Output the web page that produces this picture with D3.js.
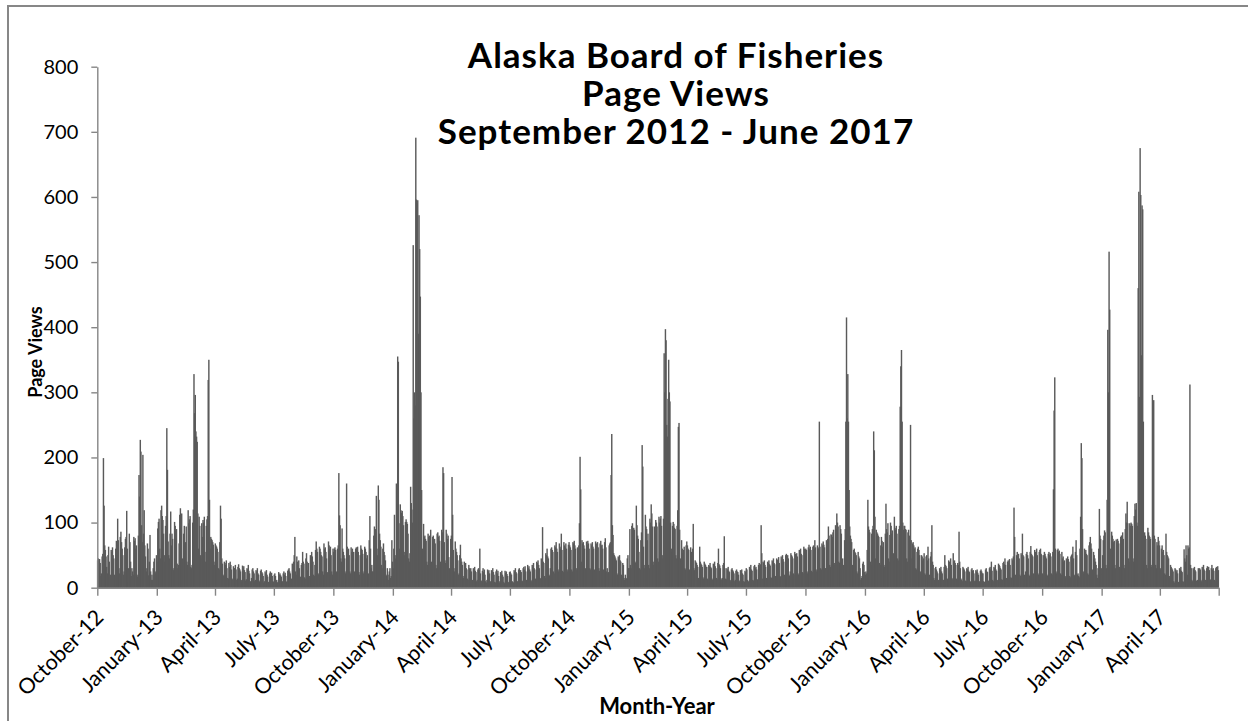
<!DOCTYPE html>
<html><head><meta charset="utf-8">
<script src="https://cdn.jsdelivr.net/npm/d3@7/dist/d3.min.js"></script>
<style>html,body{margin:0;padding:0;background:#fff;overflow:hidden}</style>
</head><body>
<svg id="chart" width="1248" height="721"></svg>
<script>
// ---------- data (daily page views, one inner array per month) ----------
const titleLines = ["Alaska Board of Fisheries", "Page Views", "September 2012 - June 2017"];
const yTicks = [0, 100, 200, 300, 400, 500, 600, 700, 800];
const tickMonths = ["2012-10","2013-01","2013-04","2013-07","2013-10","2014-01","2014-04","2014-07","2014-10","2015-01","2015-04","2015-07","2015-10","2016-01","2016-04","2016-07","2016-10","2017-01","2017-04","2017-07"];
const tickLabels = ["October-12","January-13","April-13","July-13","October-13","January-14","April-14","July-14","October-14","January-15","April-15","July-15","October-15","January-16","April-16","July-16","October-16","January-17","April-17",""];

const views2012 = [ // Oct - Dec 2012
 [42,45,40,44,38,18,22, 48,52,199,126,65,58,48, 32,22,50,63,40,17,20, 58,55,62,50,45,20,18, 60,72,65],
 [106,73,30,22, 78,86,70,60,50,20,25, 62,75,78,118,60,9,30, 83,70,40,18,30,25,20, 78,72,76,60,65],
 [20,17, 80,173,140,227,209,96,70, 204,83,119,65,48,30,25, 68,60,19,40,81,25,12, 20,12,30,40,45,22,25,50]
];
const views2013 = [
 [40,91,101,106,60,45, 119,126,110,104,83,50,40, 95,110,245,181,71,50,45, 83,117,65,83,75,27,30, 101,95,88,90],
 [37,30,35, 68,112,122,94,114,45,40, 83,95,53,70,94,40,35, 119,99,105,110,32,30,35, 100,120,328,268],
 [296,240,232, 224,114,60,109,95,50,45, 99,78,104,100,109,55,40, 95,105,110,319,350,135,60, 78,75,73,70,66,40,35],
 [68,65,63,60,55,30,28, 70,126,106,45,37,20,18, 40,38,35,42,30,15,14, 38,32,40,35,28,14,12, 33,30],
 [30,35,28,12,14, 32,36,30,28,25,12,10, 34,30,33,27,24,11,13, 30,28,35,26,22,10,9, 15,28,30,25,22],
 [10,12, 27,25,30,22,20,9,11, 26,28,24,22,18,8,10, 25,22,27,20,17,9,8, 22,25,20,23,18,10,9],
 [20,22,18,10,12,8,9, 24,20,22,19,17,8,10, 22,25,20,23,18,9,10, 26,28,30,25,22,12,14, 37,35,40],
 [50,78,25,20, 48,40,35,42,30,15,17, 35,38,55,40,37,16,14, 45,53,40,27,38,15,18, 50,45,55,48,40,20],
 [18, 35,58,71,60,55,22,20, 63,60,55,50,48,25,20, 68,60,62,55,45,24,22, 71,65,60,63,50,25,20, 60],
 [55,60,62,58,25,22, 60,65,176,111,96,45,40, 91,60,55,50,45,22,25, 160,63,58,60,50,25,22, 62,55,60,50],
 [55,25,22, 60,62,58,63,55,24,20, 50,65,60,58,52,22,25, 63,60,55,45,50,20,22, 73,110,60,30,35,25],
 [25, 80,94,85,90,141,60,50, 157,135,83,73,63,35,30, 60,68,55,50,42,20,18, 30,20,12,25,30,15,18, 73,40]
];
const views2014 = [
 [30,60,112,50,45, 160,130,355,347,99,60,128, 119,115,118,110,96,55,50, 101,105,101,98,83,45,40, 53,155,130,120,100],
 [526,260, 300,280,691,596,590,595,390, 572,520,447,300,150,60,55, 98,78,80,75,72,40,35, 83,78,80,70,89],
 [40,35, 78,80,70,75,68,35,30, 83,85,78,80,72,40,35, 89,85,185,176,70,42,38, 89,83,75,80,47,30,28, 75],
 [80,170,112,58,30,25, 71,60,55,50,42,20,22, 50,66,45,40,35,18,15, 40,35,38,30,28,14,12, 35,30,28],
 [30,25,10,12, 30,28,32,26,24,10,12, 28,30,27,60,22,9,11, 26,30,24,28,20,10,8, 12,28,25,27,22,10],
 [9, 27,25,30,24,20,9,8, 25,28,22,26,18,8,10, 24,22,26,20,17,9,7, 26,23,25,21,18,8,9, 24],
 [25,22,20,10,9,8, 27,25,30,24,22,10,9, 28,30,26,27,24,11,10, 30,32,28,33,25,12,11, 35,30,33,28],
 [25,12,10, 35,32,38,30,28,14,12, 40,38,42,35,30,15,14, 45,42,93,40,38,18,15, 53,50,60,48,45,20,18],
 [30,60,62,58,55,25,22, 65,62,70,60,55,28,25, 68,63,60,83,58,26,24, 70,65,62,68,60,28,25, 66,70],
 [65,62,58,28,25, 70,68,72,65,60,30,27, 62,60,65,99,201,151,40, 73,68,70,65,60,30,28, 71,66,72,68,60],
 [30,28, 68,65,70,63,60,28,25, 71,68,65,70,62,30,26, 68,72,65,66,60,28,25, 70,76,62,25,30,22,24],
 [65,68,70,173,236,96,81, 53,50,48,45,42,22,20, 48,45,50,42,40,20,18, 38,35,15,12,20,15,14, 45,50,30]
];
const views2015 = [
 [30,90,35,30, 95,99,89,92,89,40,38, 126,96,80,75,55,30,28, 73,85,219,186,63,35,30, 112,94,90,73,83,35],
 [30, 106,100,128,114,94,40,35, 94,83,104,100,94,45,40, 109,100,106,110,95,50,45, 106,360,300,397,380,250],
 [232, 290,350,300,286,100,60,55, 95,101,98,92,90,50,45, 95,119,247,253,89,45,40, 73,60,53,58,63,30,28, 65,71],
 [65,60,58,28,25, 62,55,50,60,98,30,27, 42,40,38,35,32,15,14, 63,40,37,35,32,16,14, 40,37,35,32],
 [32,14,12, 35,33,38,32,30,14,12, 37,35,40,33,30,15,13, 38,60,36,34,30,14,12, 15,35,38,79,30,14,13],
 [30,28,32,26,24,12,10, 28,30,27,25,22,10,12, 26,28,25,24,20,9,11, 27,25,28,22,20,10,9, 26,24],
 [30,28,12,10,9, 32,30,35,28,26,12,11, 33,35,30,32,28,13,12, 35,38,33,36,96,53,14, 40,38,42,35,32],
 [15,14, 40,38,42,36,34,16,15, 42,40,45,38,36,18,16, 45,43,40,47,38,18,17, 48,45,50,44,40,20,18, 50],
 [52,48,50,45,20,18, 25,53,50,48,45,22,20, 55,52,50,53,48,22,20, 58,55,60,52,50,24,22, 63,60,58],
 [60,58,25,22, 62,66,60,63,58,26,24, 63,65,60,73,62,28,25, 65,62,60,255,63,30,28, 68,65,71,66,62,30],
 [30, 73,70,75,94,80,35,32, 82,81,78,85,89,38,35, 96,90,114,100,94,40,38, 96,90,83,40,45,35,33, 73],
 [90,255,415,260,328,255, 150,94,80,75,70,35,30, 58,60,55,53,50,25,22, 55,48,45,30,12,15,18, 37,40,35,24]
];
const views2016 = [
 [20,25,22, 58,135,94,89,85,40,35, 83,90,95,240,211,109,45, 89,85,83,80,78,38,35, 65,78,72,63,70,35,32],
 [83,129,90,85,99,45,40, 81,100,95,83,88,40,53, 109,92,89,95,83,45,42, 90,95,278,340,365,255,100, 89],
 [95,95,90,89,45,40, 85,89,80,73,250,73,45, 68,70,65,60,62,30,28, 55,60,63,58,50,25,22, 50,48,42,45],
 [53,22,20, 48,50,42,63,45,20,18, 48,55,96,40,35,15,12, 30,32,28,25,22,12,10, 30,28,32,25,22,12],
 [12, 32,50,35,33,30,14,12, 42,40,38,45,35,15,13, 53,40,42,38,35,14,12, 38,35,86,40,30,14,12, 10,32],
 [30,28,25,11,10, 30,28,32,26,24,10,9, 28,30,26,27,22,10,11, 27,25,28,23,20,9,10, 26,28,25,22],
 [22,10,9, 8,28,30,25,24,10,11, 30,32,28,40,26,12,10, 32,30,35,28,26,12,11, 37,35,33,30,28,13,12],
 [38,40,36,45,35,15,14, 40,42,38,44,35,16,15, 45,42,48,123,78,20,18, 50,55,48,52,45,20,18, 53,50,83],
 [50,48,20,18, 25,52,55,50,45,20,18, 55,64,52,50,48,22,20, 58,55,52,60,50,22,20, 55,58,60,52,50],
 [22,20, 50,55,52,48,45,20,18, 52,55,50,53,48,22,20, 55,151,272,323,60,25,22, 58,60,55,57,52,22,20, 55],
 [45,48,40,42,18,16, 45,42,48,44,40,18,16, 48,50,52,63,45,20,18, 55,73,50,20,22,18,16, 60,109,222],
 [199,90,25,22, 60,55,58,52,50,22,20, 65,70,78,68,60,28,25, 55,50,45,40,35,20,15, 30,60,121,80,75,30]
];
const views2017 = [ // Jan - Jun 2017
 [20, 50,73,80,88,85,35,30, 135,396,300,516,427,60,50, 86,80,75,70,72,35,30, 74,70,75,72,68,32,30, 78,80],
 [80,85,75,35,30, 90,114,100,132,99,45,40, 99,95,100,98,95,45,40, 110,129,120,130,100,95,460, 608,293],
 [675,603,357,587,581, 255,40,85,80,75,35,30, 92,85,80,78,75,35,32, 296,214,288,80,75,35,30, 70,65,78,72,65],
 [30,28, 60,65,55,58,50,22,20, 83,55,50,48,45,18,15, 35,32,30,28,25,10,8, 30,28,25,27,22,9,7],
 [30,28,32,26,24,10,9, 59,45,40,65,50,20,65, 60,62,312,35,30,12,10, 30,28,32,27,25,11,10, 12,30,28],
 [30,28,12,10, 32,30,35,28,26,12,11, 30,33,28,32,27,13,12, 30,35,28,30,26,12,10, 30,32,28,33,27]
];

const yearBlocks = [
 {year: 2012, firstMonth: 9, months: views2012},
 {year: 2013, firstMonth: 0, months: views2013},
 {year: 2014, firstMonth: 0, months: views2014},
 {year: 2015, firstMonth: 0, months: views2015},
 {year: 2016, firstMonth: 0, months: views2016},
 {year: 2017, firstMonth: 0, months: views2017}
];

// ---------- build ----------
const daily = [];
yearBlocks.forEach(b => b.months.forEach((vals, mi) => vals.forEach((v, di) => {
  daily.push({date: new Date(b.year, b.firstMonth + mi, di + 1), value: v});
})));

const svg = d3.select("#chart");
const FONT = "Lato, 'Open Sans', sans-serif";
const AXIS = "#868686";

// outer frame
svg.append("rect").attr("x", 8).attr("y", 6).attr("width", 1260).attr("height", 740)
  .attr("fill", "none").attr("stroke", "#878787").attr("stroke-width", 2);

const x = d3.scaleTime().domain([new Date(2012, 9, 1), new Date(2017, 6, 1)]).range([97.3, 1218.7]);
const y = d3.scaleLinear().domain([0, 800]).range([587.7, 66.7]);

// bars (overlapping so dense runs read as solid fill)
svg.append("g").selectAll("rect").data(daily).join("rect")
  .attr("x", d => { const w = x(d3.timeDay.offset(d.date, 1)) - x(d.date); return x(d.date) - w * 0.6; })
  .attr("width", d => (x(d3.timeDay.offset(d.date, 1)) - x(d.date)) * 2.2)
  .attr("y", d => y(d.value))
  .attr("height", d => y(0) - y(d.value))
  .attr("fill", "#5a5a5a");

// y axis
const gy = svg.append("g").attr("transform", "translate(97.3,0)")
  .call(d3.axisLeft(y).tickValues(yTicks).tickSize(6).tickSizeOuter(0).tickPadding(13).tickFormat(d3.format("d")));
gy.select(".domain").attr("stroke", AXIS).attr("stroke-width", 1.4);
gy.selectAll(".tick line").attr("stroke", AXIS).attr("stroke-width", 1.4);
gy.selectAll(".tick text").attr("font-family", FONT).attr("font-size", 20).attr("fill", "#000");

// x axis
const tickDates = tickMonths.map(s => new Date(+s.slice(0, 4), +s.slice(5, 7) - 1, 1));
const gx = svg.append("g").attr("transform", "translate(0,587.7)")
  .call(d3.axisBottom(x).tickValues(tickDates).tickSize(8).tickSizeOuter(0).tickFormat((d, i) => tickLabels[i]));
gx.select(".domain").attr("stroke", AXIS).attr("stroke-width", 1.4);
gx.selectAll(".tick line").attr("stroke", AXIS).attr("stroke-width", 1.4);
gx.selectAll(".tick text")
  .attr("font-family", FONT).attr("font-size", 21.5).attr("fill", "#000")
  .attr("text-anchor", "end").attr("x", 0).attr("y", 0).attr("dy", 0)
  .attr("transform", "translate(7,31) rotate(-45)");

// titles
svg.append("g").selectAll("text").data(titleLines).join("text")
  .attr("x", 676).attr("y", (d, i) => 68 + i * 38)
  .attr("text-anchor", "middle").attr("font-family", FONT).attr("font-weight", 700)
  .attr("font-size", 35).attr("letter-spacing", 1.0).attr("fill", "#000").text(d => d);

svg.append("text").attr("x", 657).attr("y", 714).attr("text-anchor", "middle")
  .attr("font-family", FONT).attr("font-weight", 700).attr("font-size", 22).attr("fill", "#000")
  .text("Month-Year");

svg.append("text").attr("transform", "translate(42,352) rotate(-90)").attr("text-anchor", "middle")
  .attr("font-family", FONT).attr("font-weight", 700).attr("font-size", 18).attr("fill", "#000")
  .text("Page Views");
</script>
</body></html>
